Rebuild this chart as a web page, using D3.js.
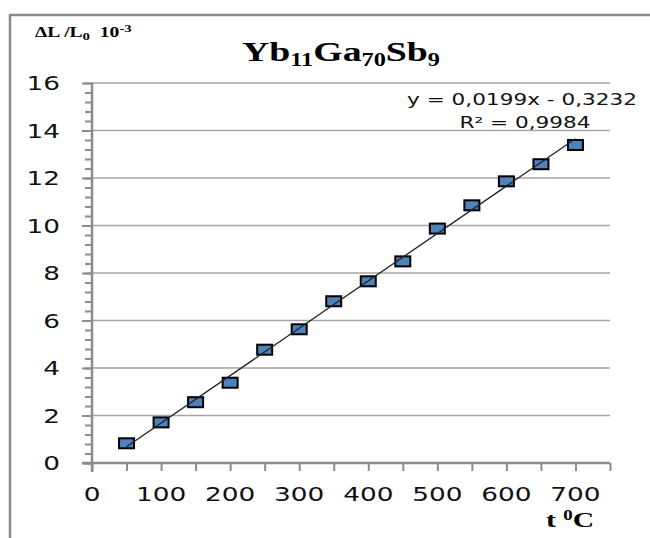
<!DOCTYPE html>
<html><head><meta charset="utf-8">
<script src="https://cdn.jsdelivr.net/npm/d3@7/dist/d3.min.js"></script>
<style>body{margin:0;background:#fff;overflow:hidden}</style>
</head><body>
<svg id="c" width="650" height="538"></svg>
<script>
// ---- data ----
const temps = [50,100,150,200,250,300,350,400,450,500,550,600,650,700];
const dL = [0.83,1.71,2.56,3.38,4.77,5.63,6.81,7.65,8.49,9.87,10.85,11.86,12.58,13.39];
const xTickLabels = [0,100,200,300,400,500,600,700];
const yTickLabels = [0,2,4,6,8,10,12,14,16];
const equationText = "y = 0,0199x - 0,3232";
const r2Text = "R² = 0,9984";

const SX = 1.35; // horizontal stretch of the original picture
const svg = d3.select("#c");

const x = d3.scaleLinear().domain([0,750]).range([92,610]);
const y = d3.scaleLinear().domain([0,16]).range([463,83]);

// frame
svg.append("path").attr("d","M10,538 L10,15 L650,15").attr("fill","none").attr("stroke","#8a8a8a").attr("stroke-width",2.5);

// gridlines
svg.append("g").selectAll("line").data(yTickLabels.filter(d=>d>0)).join("line")
  .attr("x1",x(0)).attr("x2",x(750)).attr("y1",d=>y(d)).attr("y2",d=>y(d))
  .attr("stroke","#a5a5a5").attr("stroke-width",1.5);

// y axis
const yAxis = d3.axisLeft(y).tickValues(yTickLabels).tickSize(10).tickFormat("");
const yMinor = d3.axisLeft(y).tickValues(d3.range(0,16.001,0.4)).tickSize(7).tickFormat("");
const gy = svg.append("g").attr("transform",`translate(${x(0)},0)`);
gy.call(yMinor);
gy.append("g").call(yAxis);
gy.selectAll("path").remove();
gy.selectAll("line").attr("stroke","#8c8c8c").attr("stroke-width",2);
svg.append("line").attr("x1",x(0)).attr("x2",x(0)).attr("y1",y(16)).attr("y2",y(0)+9)
  .attr("stroke","#8c8c8c").attr("stroke-width",2.5);

// x axis
const xAxis = d3.axisBottom(x).tickValues(d3.range(0,751,50)).tickSize(8).tickFormat("");
const gx = svg.append("g").attr("transform",`translate(0,${y(0)})`).call(xAxis);
gx.selectAll("path").remove();
gx.selectAll("line").attr("stroke","#8c8c8c").attr("stroke-width",2);
svg.append("line").attr("x1",x(0)-10).attr("x2",x(750)).attr("y1",y(0)).attr("y2",y(0))
  .attr("stroke","#8c8c8c").attr("stroke-width",2.5);

// tick labels
svg.append("g").selectAll("text").data(yTickLabels).join("text")
  .attr("transform",d=>`translate(60,${y(d)}) scale(${SX},1)`)
  .attr("dy","0.36em").attr("text-anchor","end")
  .attr("font-family","DejaVu Sans").attr("font-size",19.5).attr("fill","#111")
  .text(d=>d);
svg.append("g").selectAll("text").data(xTickLabels).join("text")
  .attr("transform",d=>`translate(${x(d)},494) scale(${SX},1)`)
  .attr("dy","0.36em").attr("text-anchor","middle")
  .attr("font-family","DejaVu Sans").attr("font-size",19.5).attr("fill","#111")
  .text(d=>d);

// markers
svg.append("g").selectAll("rect").data(temps.map((t,i)=>[t,dL[i]])).join("rect")
  .attr("x",d=>x(d[0])-7.5).attr("y",d=>y(d[1])-5).attr("width",15).attr("height",10)
  .attr("fill","#4f81bd").attr("stroke","#000").attr("stroke-width",2);

// linear trendline (least squares)
const mx = d3.mean(temps), my = d3.mean(dL);
const slope = d3.sum(temps,(t,i)=>(t-mx)*(dL[i]-my)) / d3.sum(temps,t=>(t-mx)*(t-mx));
const icpt = my - slope*mx;
const tx = d3.extent(temps);
svg.append("line").attr("x1",x(tx[0])).attr("y1",y(slope*tx[0]+icpt))
  .attr("x2",x(tx[1])).attr("y2",y(slope*tx[1]+icpt))
  .attr("stroke","#222").attr("stroke-width",1.3);

// equation (centered label)
svg.append("text").attr("transform",`translate(522,105) scale(${SX},1)`).attr("text-anchor","middle")
  .attr("font-family","DejaVu Sans").attr("font-size",16).attr("fill","#111").text(equationText);
svg.append("text").attr("transform",`translate(525,128) scale(${SX},1)`).attr("text-anchor","middle")
  .attr("font-family","DejaVu Sans").attr("font-size",16).attr("fill","#111").text(r2Text);

// title
const title = svg.append("text").attr("transform",`translate(341,61) scale(${SX},1)`)
  .attr("text-anchor","middle").attr("font-family","Liberation Serif").attr("font-weight","bold")
  .attr("font-size",28).attr("fill","#000");
[["Yb",0],["11",1],["Ga",0],["70",1],["Sb",0],["9",1]].forEach(([s,sub])=>{
  title.append("tspan").attr("font-size",sub?18:28).attr("dy",sub?5:(s==="Yb"?0:-5)).text(s);
});

// y axis title
const yt = svg.append("text").attr("transform",`translate(35,37) scale(${SX},1)`)
  .attr("font-family","Liberation Serif").attr("font-weight","bold").attr("font-size",14.5).attr("fill","#000")
  .attr("xml:space","preserve");
yt.append("tspan").text("ΔL /L");
yt.append("tspan").attr("font-size",11).attr("dy",3).text("0");
yt.append("tspan").attr("dy",-3).text("  10");
yt.append("tspan").attr("font-size",11).attr("dy",-5).text("-3");

// x axis title
const xt = svg.append("text").attr("transform",`translate(546,527) scale(${SX},1)`)
  .attr("font-family","Liberation Serif").attr("font-weight","bold").attr("font-size",22).attr("fill","#000");
xt.append("tspan").text("t ");
xt.append("tspan").attr("font-size",14).attr("dy",-7).text("0");
xt.append("tspan").attr("dy",7).text("C");
</script>
</body></html>
